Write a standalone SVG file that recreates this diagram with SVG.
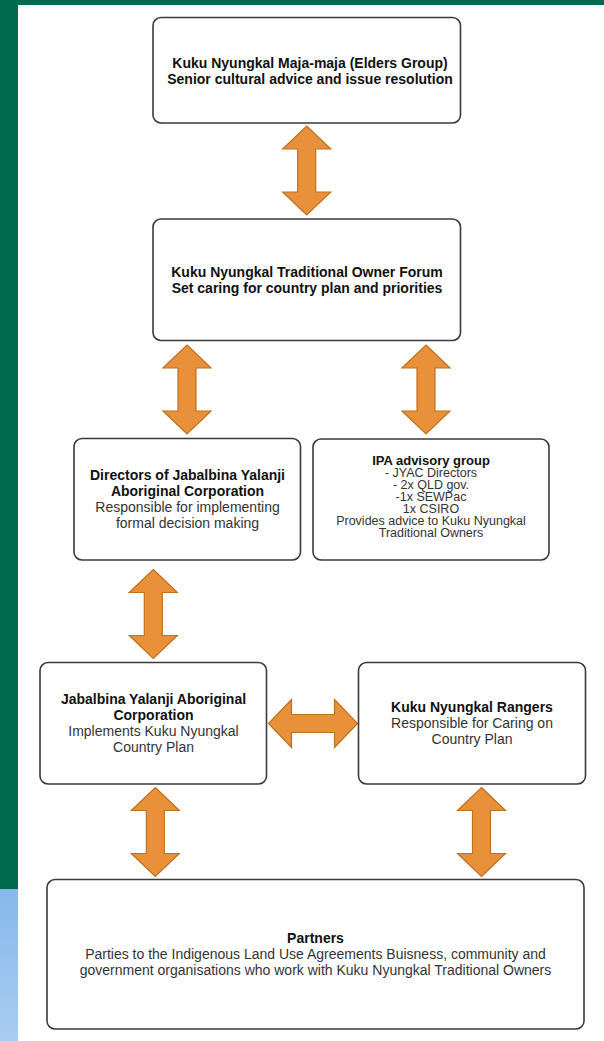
<svg xmlns="http://www.w3.org/2000/svg" xmlns:xlink="http://www.w3.org/1999/xlink" width="604" height="1041" viewBox="0 0 604 1041">
<style>
.box{fill:#ffffff;stroke:#3a3a3a;stroke-width:1.6}
.arr{fill:#e8913a;stroke:#c0701e;stroke-width:1.2;stroke-linejoin:miter}
text{font-family:"Liberation Sans",Arial,sans-serif;text-anchor:middle}
.b{font-size:14px;font-weight:bold;fill:#111}
.r{font-size:14px;fill:#333}
.sb{font-size:13px;font-weight:bold;fill:#111}
.sr{font-size:12.5px;fill:#333}
</style>
<defs>
<linearGradient id="blue" x1="0" y1="0" x2="0" y2="1">
<stop offset="0" stop-color="#86b8ea"/>
<stop offset="1" stop-color="#a9cdf2"/>
</linearGradient>
<path id="varrow" d="M0,0 L24,23 L9,23 L9,66 L24,66 L0,89 L-24,66 L-9,66 L-9,23 L-24,23 Z"/>
</defs>
<rect x="0" y="0" width="604" height="1041" fill="#ffffff"/>
<rect x="0" y="0" width="604" height="5" fill="#006a4e"/>
<rect x="0" y="0" width="18" height="889" fill="#006a4e"/>
<rect x="0" y="889" width="18" height="152" fill="url(#blue)"/>

<g id="connectors">
<use xlink:href="#varrow" href="#varrow" class="arr" transform="translate(306.7,126)"/>
<use xlink:href="#varrow" href="#varrow" class="arr" transform="translate(187,345)"/>
<use xlink:href="#varrow" href="#varrow" class="arr" transform="translate(426,345)"/>
<use xlink:href="#varrow" href="#varrow" class="arr" transform="translate(153.3,569.5)"/>
<use xlink:href="#varrow" href="#varrow" class="arr" transform="translate(357.5,723.5) rotate(90)"/>
<use xlink:href="#varrow" href="#varrow" class="arr" transform="translate(155.3,787.5)"/>
<use xlink:href="#varrow" href="#varrow" class="arr" transform="translate(481.5,787.5)"/>
</g>

<g id="elders">
<rect class="box" x="153" y="17.5" width="307.5" height="105.5" rx="8"/>
<text class="b" x="310" y="68">Kuku Nyungkal Maja-maja (Elders Group)</text>
<text class="b" x="310" y="84">Senior cultural advice and issue resolution</text>
</g>

<g id="forum">
<rect class="box" x="153" y="219" width="307.5" height="121.5" rx="8"/>
<text class="b" x="307" y="276.5">Kuku Nyungkal Traditional Owner Forum</text>
<text class="b" x="307" y="292.5">Set caring for country plan and priorities</text>
</g>

<g id="directors">
<rect class="box" x="74" y="438.5" width="226.5" height="121.5" rx="8"/>
<text class="b" x="187.5" y="480">Directors of Jabalbina Yalanji</text>
<text class="b" x="187.5" y="496">Aboriginal Corporation</text>
<text class="r" x="187.5" y="512">Responsible for implementing</text>
<text class="r" x="187.5" y="528">formal decision making</text>
</g>

<g id="ipa">
<rect class="box" x="313" y="439" width="236" height="121" rx="8"/>
<text class="sb" x="431" y="464.5">IPA advisory group</text>
<text class="sr" x="431" y="476.5">- JYAC Directors</text>
<text class="sr" x="431" y="488.5">- 2x QLD gov.</text>
<text class="sr" x="431" y="500.5">-1x SEWPac</text>
<text class="sr" x="431" y="512.5">1x CSIRO</text>
<text class="sr" x="431" y="524.5">Provides advice to Kuku Nyungkal</text>
<text class="sr" x="431" y="536.5">Traditional Owners</text>
</g>

<g id="jyac">
<rect class="box" x="40" y="662.5" width="226.5" height="121.5" rx="8"/>
<text class="b" x="153.5" y="704">Jabalbina Yalanji Aboriginal</text>
<text class="b" x="153.5" y="720">Corporation</text>
<text class="r" x="153.5" y="736">Implements Kuku Nyungkal</text>
<text class="r" x="153.5" y="752">Country Plan</text>
</g>

<g id="rangers">
<rect class="box" x="358.5" y="662.5" width="227" height="121.5" rx="8"/>
<text class="b" x="472" y="712">Kuku Nyungkal Rangers</text>
<text class="r" x="472" y="728">Responsible for Caring on</text>
<text class="r" x="472" y="744">Country Plan</text>
</g>

<g id="partners">
<rect class="box" x="47" y="879.5" width="537" height="149.5" rx="8"/>
<text class="b" x="315.5" y="943">Partners</text>
<text class="r" x="315.5" y="959">Parties to the Indigenous Land Use Agreements Buisness, community and</text>
<text class="r" x="315.5" y="975">government organisations who work with Kuku Nyungkal Traditional Owners</text>
</g>
</svg>
